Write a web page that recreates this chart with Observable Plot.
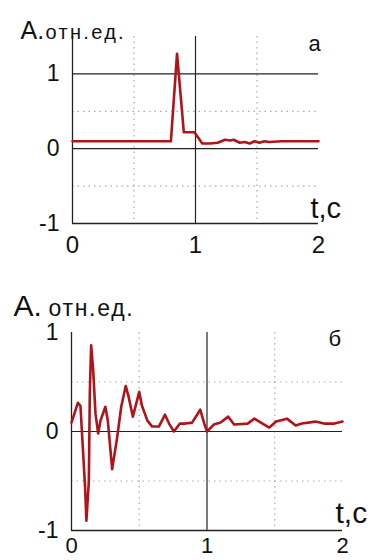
<!DOCTYPE html>
<html>
<head>
<meta charset="utf-8">
<script src="https://cdn.jsdelivr.net/npm/d3@7"></script>
<script src="https://cdn.jsdelivr.net/npm/@observablehq/plot@0.6"></script>
<style>
  html, body { margin: 0; padding: 0; background: #fff; }
  #wrap { width: 374px; height: 560px; overflow: hidden; }
  svg { display: block; }
</style>
</head>
<body>
<div id="wrap"></div>
<script>
// Chart "а"
const tA = [0, 0.80, 0.85, 0.905, 0.99, 1.0, 1.055, 1.12, 1.18, 1.24, 1.28, 1.31, 1.36, 1.40, 1.44, 1.48, 1.52, 1.56, 1.60, 1.70, 1.80, 1.90, 2.0];
const aA = [0.1, 0.1, 1.27, 0.22, 0.22, 0.2, 0.07, 0.07, 0.08, 0.12, 0.11, 0.12, 0.08, 0.09, 0.07, 0.1, 0.08, 0.1, 0.09, 0.1, 0.1, 0.1, 0.1];

// Chart "б"
const tB = [0, 0.047, 0.066, 0.10, 0.11, 0.128, 0.135, 0.145, 0.16, 0.177, 0.197, 0.214, 0.25, 0.268, 0.30, 0.337, 0.367, 0.40, 0.42, 0.453, 0.50, 0.52, 0.56, 0.596, 0.645, 0.69, 0.72, 0.756, 0.80, 0.84, 0.89, 0.95, 0.98, 1.0, 1.05, 1.10, 1.157, 1.20, 1.30, 1.35, 1.41, 1.46, 1.51, 1.59, 1.655, 1.70, 1.80, 1.865, 1.94, 2.0];
const aB = [0.09, 0.29, 0.26, -0.56, -0.90, -0.5, 0.38, 0.87, 0.62, 0.18, -0.02, 0.11, 0.25, 0.11, -0.38, -0.06, 0.25, 0.46, 0.36, 0.15, 0.40, 0.26, 0.11, 0.05, 0.05, 0.17, 0.08, 0.0, 0.08, 0.08, 0.09, 0.22, 0.08, 0.0, 0.07, 0.09, 0.15, 0.07, 0.08, 0.13, 0.08, 0.04, 0.10, 0.13, 0.06, 0.08, 0.10, 0.08, 0.08, 0.10];

const xTicks = [0, 1, 2];
const yTicks = [-1, 0, 1];
const gridX = [0.5, 1.5];
const gridY = [-0.5, 0.5];

const FONT = "'Liberation Sans', Arial, Helvetica, sans-serif";
const LINE = "#b0141b";
const AXIS = "#222";

function makeChart(cfg) {
  const data = cfg.t.map((t, i) => ({t, a: cfg.a[i]}));
  const svg = Plot.plot({
    width: 374,
    height: 280,
    marginLeft: cfg.ml, marginRight: cfg.mr, marginTop: cfg.mt, marginBottom: cfg.mb,
    style: {fontFamily: FONT, color: "#111", background: "#fff", overflow: "visible"},
    x: {domain: [0, 2]},
    y: {domain: cfg.ydom},
    marks: [
      Plot.ruleX(gridX, {stroke: "#aaa", strokeDasharray: "1.5,4", strokeWidth: 1.2}),
      Plot.ruleY(gridY, {stroke: "#aaa", strokeDasharray: "1.5,4", strokeWidth: 1.2}),
      Plot.ruleY(cfg.solidY, {stroke: AXIS, strokeWidth: 1.2}),
      Plot.ruleX([1], {stroke: AXIS, strokeWidth: 1.2}),
      Plot.ruleX([0], {stroke: AXIS, strokeWidth: 1.3}),
      Plot.ruleY([-1], {stroke: AXIS, strokeWidth: 1.3}),
      Plot.axisX({ticks: xTicks, tickSize: 0, tickPadding: cfg.xpad, fontSize: cfg.xfs, label: null, tickFormat: d => String(d)}),
      Plot.axisY({ticks: yTicks, tickSize: 0, tickPadding: 13, fontSize: 23, label: null, tickFormat: d => d < 0 ? "-" + Math.abs(d) : String(d)}),
      Plot.line(data, {x: "t", y: "a", stroke: LINE, strokeWidth: 2.6, strokeLinejoin: "round"}),
      Plot.text(["A."], {frameAnchor: "top-left", textAnchor: "start", lineAnchor: "bottom", dx: cfg.A.dx, dy: cfg.A.dy, fontSize: cfg.A.fs, fill: "#111"}),
      Plot.text(["отн.ед."], {frameAnchor: "top-left", textAnchor: "start", lineAnchor: "bottom", dx: cfg.U.dx, dy: cfg.U.dy, fontSize: cfg.U.fs, fill: "#111"}),
      Plot.text([cfg.letter], {frameAnchor: "top-right", textAnchor: "start", lineAnchor: "bottom", dx: cfg.L.dx, dy: cfg.L.dy, fontSize: 22, fill: "#111"}),
      Plot.text(["t,c"], {frameAnchor: "bottom-right", textAnchor: "start", lineAnchor: "bottom", dx: cfg.T.dx, dy: cfg.T.dy, fontSize: cfg.T.fs, fill: "#111"})
    ]
  });
  d3.select(svg).selectAll("text").filter(function() { return this.textContent === "отн.ед."; })
    .attr("letter-spacing", cfg.U.ls);
  return svg;
}

const wrap = document.getElementById("wrap");
wrap.appendChild(makeChart({
  t: tA, a: aA, ml: 72, mr: 56, mt: 36, mb: 57, ydom: [-1, 1.5], solidY: [0, 1], xpad: 12, xfs: 24,
  A: {dx: -52, dy: 2, fs: 25},
  U: {dx: -27, dy: 2, fs: 20, ls: 2.3},
  L: {dx: -10, dy: 14},
  T: {dx: -8, dy: -6, fs: 29},
  letter: "а"
}));
wrap.appendChild(makeChart({
  t: tB, a: aB, ml: 71, mr: 32, mt: 52, mb: 30, ydom: [-1, 1], solidY: [0], xpad: 7, xfs: 22,
  A: {dx: -58, dy: -17, fs: 30},
  U: {dx: -23, dy: -17, fs: 23, ls: 1.7},
  L: {dx: -14, dy: 13},
  T: {dx: -7, dy: -8, fs: 30},
  letter: "б"
}));
</script>
</body>
</html>
